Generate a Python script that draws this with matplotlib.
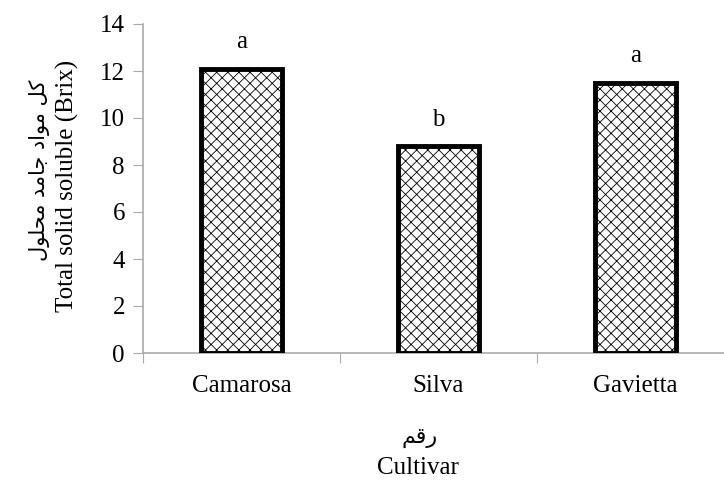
import matplotlib.pyplot as plt
import numpy as np

plt.rcParams['hatch.linewidth'] = 0.6
plt.rcParams['hatch.color'] = '#7a7a7a'

cultivars = ['Camarosa', 'Silva', 'Gavietta']
tss = [12.1, 8.8, 11.5]
letters = ['a', 'b', 'a']
y_ticks = [0, 2, 4, 6, 8, 10, 12, 14]
ylabel_fa = 'کل مواد جامد محلول'
ylabel_en = 'Total solid soluble (Brix)'
xlabel_fa = 'رقم'
xlabel_en = 'Cultivar'

# presentation forms: isolated, final, initial, medial (None = no join to the left)
FORMS = {
    'ا': ('\uFE8D', '\uFE8E', None, None),
    'د': ('\uFEA9', '\uFEAA', None, None),
    'ر': ('\uFEAD', '\uFEAE', None, None),
    'و': ('\uFEED', '\uFEEE', None, None),
    'ج': ('\uFE9D', '\uFE9E', '\uFE9F', '\uFEA0'),
    'ح': ('\uFEA1', '\uFEA2', '\uFEA3', '\uFEA4'),
    'ق': ('\uFED5', '\uFED6', '\uFED7', '\uFED8'),
    'ل': ('\uFEDD', '\uFEDE', '\uFEDF', '\uFEE0'),
    'م': ('\uFEE1', '\uFEE2', '\uFEE3', '\uFEE4'),
    'ک': ('\uFB8E', '\uFB8F', '\uFB90', '\uFB91'),
}


def shape_fa(text):
    # matplotlib has no arabic shaping, do it by hand and reverse
    out = []
    for i, ch in enumerate(text):
        if ch not in FORMS:
            out.append(ch)
            continue
        prev = text[i - 1] if i > 0 else ' '
        nxt = text[i + 1] if i + 1 < len(text) else ' '
        join_prev = prev in FORMS and FORMS[prev][2] is not None
        join_next = nxt in FORMS and FORMS[ch][2] is not None
        iso, fin, ini, med = FORMS[ch]
        if join_prev and join_next:
            out.append(med)
        elif join_prev:
            out.append(fin)
        elif join_next:
            out.append(ini)
        else:
            out.append(iso)
    return ''.join(out)[::-1]


fig = plt.figure(figsize=(7.24, 4.88), dpi=100)
ax = fig.add_axes([143 / 724, 1 - 353 / 488, 591 / 724, 329 / 488])

x = np.arange(len(cultivars))
ax.bar(x, tss, width=0.41, color='white', edgecolor='black', linewidth=3.5,
       hatch='xxx', zorder=3)

for xi, v, l in zip(x, tss, letters):
    ax.text(xi, v + 0.65, l, ha='center', va='bottom', fontsize=18,
            family='Liberation Serif')

ax.set_xlim(-0.5, 2.5)
ax.set_ylim(0, 14)
ax.set_yticks(y_ticks)
ax.set_yticklabels([str(t) for t in y_ticks], family='Liberation Serif', fontsize=18)
ax.set_xticks([-0.5, 0.5, 1.5, 2.5])
ax.set_xticklabels([])
ax.set_xticks(x, minor=True)
ax.set_xticklabels(cultivars, minor=True, family='Liberation Serif', fontsize=18)
ax.tick_params(axis='x', which='minor', length=0, pad=16)
ax.tick_params(axis='x', which='major', length=7, color='#aaaaaa', direction='out')
ax.tick_params(axis='y', length=7, color='#aaaaaa', direction='out', pad=6)

for s in ['top', 'right']:
    ax.spines[s].set_visible(False)
for s in ['left', 'bottom']:
    ax.spines[s].set_color('#aaaaaa')
    ax.spines[s].set_linewidth(1.2)

fig.text(40 / 724, 1 - 170 / 488, shape_fa(ylabel_fa), rotation=90, ha='center',
         va='center', fontsize=15, family='DejaVu Sans')
fig.text(67 / 724, 1 - 186 / 488, ylabel_en, rotation=90, ha='center', va='center',
         fontsize=18, family='Liberation Serif')
fig.text(420 / 724, 1 - 438 / 488, shape_fa(xlabel_fa), ha='center', va='center',
         fontsize=16, family='DejaVu Sans')
fig.text(418 / 724, 1 - 468 / 488, xlabel_en, ha='center', va='center',
         fontsize=18, family='Liberation Serif')

fig.savefig('out.png', dpi=100)
